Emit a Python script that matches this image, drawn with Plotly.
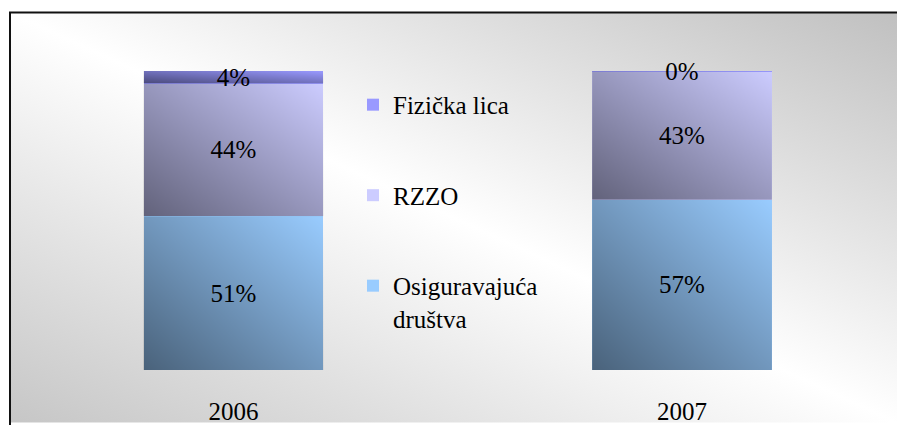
import base64
import plotly.graph_objects as go

# data
years = ["2006", "2007"]
series_names = ["Osiguravajuća<br>društva", "RZZO", "Fizička lica"]
osiguravajuca = [51.4, 56.9]
rzzo = [44.4, 43.05]
fizicka = [4.2, 0.05]
series_colors = ["#99CCFF", "#CCCCFF", "#9999FF"]

W, H = 897, 425
FONT = "Liberation Serif"
FS = 25
bar_w = 0.401


def svg_uri(svg):
    return "data:image/svg+xml;base64," + base64.b64encode(svg.encode()).decode()


# dark bottom-left -> clear top-right overlay used on each bar segment
shade = svg_uri(
    '<svg xmlns="http://www.w3.org/2000/svg" width="100" height="100" viewBox="0 0 100 100" preserveAspectRatio="none">'
    '<defs><linearGradient id="g" x1="0" y1="1" x2="1" y2="0">'
    '<stop offset="0" stop-color="#000" stop-opacity="0.52"/>'
    '<stop offset="1" stop-color="#000" stop-opacity="0"/>'
    '</linearGradient></defs><rect width="100" height="100" fill="url(#g)"/></svg>'
)
# grey - white - grey diagonal background
backdrop = svg_uri(
    '<svg xmlns="http://www.w3.org/2000/svg" width="100" height="100" viewBox="0 0 100 100" preserveAspectRatio="none">'
    '<defs><linearGradient id="b" x1="0" y1="1" x2="1" y2="0">'
    '<stop offset="0" stop-color="#c6c6c6"/>'
    '<stop offset="0.5" stop-color="#ffffff"/>'
    '<stop offset="1" stop-color="#c0c0c0"/>'
    '</linearGradient></defs><rect width="100" height="100" fill="url(#b)"/></svg>'
)

xs = list(range(len(years)))
all_values = [osiguravajuca, rzzo, fizicka]

fig = go.Figure()
for k, (name, vals, col) in enumerate(zip(series_names, all_values, series_colors)):
    fig.add_trace(go.Bar(
        x=xs, y=vals, name=name, legendgroup=name,
        legendrank=len(series_names) - k,
        width=bar_w,
        marker=dict(color=col, line=dict(width=0)),
        texttemplate="%{y:.0f}%",
        textposition="inside",
        insidetextanchor="middle",
        textangle=0,
        textfont=dict(family=FONT, size=FS, color="black"),
        cliponaxis=False,
    ))

images = []
base = [0.0] * len(years)
for vals in all_values:
    for i, v in enumerate(vals):
        images.append(dict(
            source=shade, xref="x", yref="y",
            x=xs[i] - bar_w / 2, y=base[i] + v,
            sizex=bar_w, sizey=v,
            xanchor="left", yanchor="top",
            sizing="stretch", layer="above",
        ))
        base[i] += v

# plot area spans y pixels 71..372 of the figure
top, bot = 71, 372
ph = bot - top
images.append(dict(
    source=backdrop, xref="paper", yref="paper",
    x=10 / W, y=(bot - 12) / ph,
    sizex=(W - 10) / W, sizey=(H - 12) / ph,
    xanchor="left", yanchor="top",
    sizing="stretch", layer="below",
))

fig.update_layout(
    width=W, height=H,
    margin=dict(l=0, r=0, t=top, b=H - bot),
    barmode="stack",
    paper_bgcolor="white",
    plot_bgcolor="white",
    images=images,
    font=dict(family=FONT, size=FS, color="black"),
    uniformtext=dict(minsize=FS, mode="show"),
    showlegend=True,
    legend=dict(
        x=353 / W, y=(bot - 82) / ph, xanchor="left", yanchor="top",
        traceorder="grouped", tracegroupgap=55,
        valign="top", bgcolor="rgba(0,0,0,0)",
        font=dict(family=FONT, size=FS, color="black"),
    ),
    xaxis=dict(
        range=[-233.5 / 448.5, (W - 233.5) / 448.5],
        tickvals=xs, ticktext=years,
        showgrid=False, zeroline=False, showline=False,
        ticks="outside", ticklen=19, tickcolor="rgba(0,0,0,0)",
        tickfont=dict(family=FONT, size=FS, color="black"),
    ),
    yaxis=dict(range=[0, 100], visible=False, showgrid=False, zeroline=False),
    shapes=[dict(
        type="rect", xref="paper", yref="paper",
        x0=10 / W, x1=1.05, y0=-0.3, y1=(bot - 12) / ph,
        line=dict(color="#111", width=2), layer="above",
    )],
)

fig.write_html(
    "out.html",
    config={"displayModeBar": False},
    post_script="document.body.style.margin='0';document.body.style.overflow='hidden';",
)
